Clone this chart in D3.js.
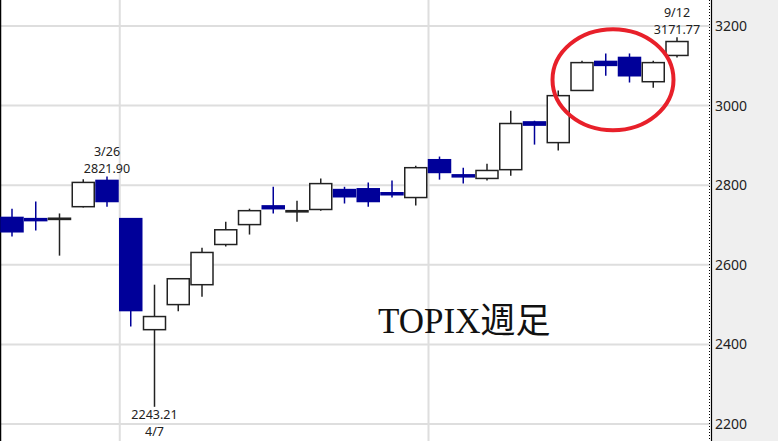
<!DOCTYPE html>
<html>
<head>
<meta charset="utf-8">
<script src="https://cdn.jsdelivr.net/npm/d3@7"></script>
<style>
  body { margin: 0; background: #fff; }
  svg { display: block; }
  .tick text { font-family: "Noto Sans", sans-serif; font-size: 14px; fill: #222; }
</style>
</head>
<body>
<div id="chart"></div>
<script>
// weekly candles, week starting dates (2025)
const weeks = ["2/24", "3/3", "3/10", "3/17", "3/24", "3/31", "4/7", "4/14", "4/21", "4/28",
  "5/5", "5/12", "5/19", "5/26", "6/2", "6/9", "6/16", "6/23", "6/30", "7/7",
  "7/14", "7/21", "7/28", "8/4", "8/11", "8/18", "8/25", "9/1", "9/8"];
const opens  = [2719, 2716, 2714, 2746, 2812, 2716, 2437, 2500, 2550, 2651,
  2701, 2748, 2733, 2739, 2789, 2791, 2781, 2769, 2864, 2826,
  2817, 2839, 2959, 2907, 3038, 3111, 3121, 3060, 3126];
const highs  = [2741, 2759, 2729, 2815, 2821.90, 2716, 2550, 2567, 2643, 2708,
  2741, 2796, 2761, 2817, 2796, 2807, 2812, 2849, 2872, 2844,
  2854, 2987, 2962, 3038, 3113, 3131, 3131, 3113, 3171.77];
const lows   = [2671, 2686, 2623, 2744, 2746, 2445, 2243.21, 2483, 2520, 2646,
  2676, 2729, 2708, 2736, 2754, 2746, 2769, 2749, 2814, 2804,
  2812, 2824, 2902, 2887, 3038, 3075, 3058, 3045, 3121];
const closes = [2683, 2711, 2717, 2807, 2759, 2485, 2470, 2565, 2631, 2688,
  2736, 2741, 2736, 2804, 2771, 2759, 2776, 2844, 2832, 2821,
  2837, 2955, 2951, 3025, 3108, 3101, 3075, 3108, 3161];
const yTicks = [2200, 2400, 2600, 2800, 3000, 3200];
const monthStarts = ["3/31", "6/30"];
// annotated extremes: [week, date label, value, above/below]
const marks = [["3/24", "3/26", "2821.90", "high"], ["4/7", "4/7", "2243.21", "low"], ["9/8", "9/12", "3171.77", "high"]];
const title = "TOPIX週足";

const width = 778, height = 441;
const plotRight = 710;
const blue = "#000099", ink = "#222";

const candles = weeks.map((w, i) => ({ w: w, o: opens[i], h: highs[i], l: lows[i], c: closes[i] }));

const svg = d3.select("#chart").append("svg")
  .attr("width", width)
  .attr("height", height);

const x = d3.scalePoint().domain(weeks).range([12, 677]);
const y = d3.scaleLinear().domain([2200, 3200]).range([424, 26]);
const bodyW = 22;

// right axis panel
svg.append("rect")
  .attr("x", plotRight + 1).attr("y", 0)
  .attr("width", width - plotRight).attr("height", height)
  .attr("fill", "#efefef");

// grid
svg.append("g").selectAll("line").data(yTicks).enter().append("line")
  .attr("x1", 0).attr("x2", plotRight)
  .attr("y1", d => y(d)).attr("y2", d => y(d))
  .attr("stroke", "#dedede").attr("stroke-width", 2);
svg.append("g").selectAll("line").data(monthStarts).enter().append("line")
  .attr("x1", d => x(d) - 11).attr("x2", d => x(d) - 11)
  .attr("y1", 0).attr("y2", height)
  .attr("stroke", "#dedede").attr("stroke-width", 2);

// borders
svg.append("line").attr("x1", 0.5).attr("x2", 0.5).attr("y1", 0).attr("y2", height)
  .attr("stroke", "#000").attr("stroke-width", 1.5);
svg.append("line").attr("x1", plotRight - 0.5).attr("x2", plotRight - 0.5).attr("y1", 0).attr("y2", height)
  .attr("stroke", "#000").attr("stroke-width", 1).attr("stroke-dasharray", "1,2");
svg.append("line").attr("x1", plotRight + 1.5).attr("x2", plotRight + 1.5).attr("y1", 0).attr("y2", height)
  .attr("stroke", "#000").attr("stroke-width", 1.2);

const axis = svg.append("g")
  .attr("transform", "translate(" + (plotRight + 2) + ",0)")
  .call(d3.axisRight(y).tickValues(yTicks).tickSize(0).tickPadding(3).tickFormat(d3.format("d")));
axis.select(".domain").remove();

// candles
const g = svg.append("g");
const colorOf = d => d.c < d.o ? blue : ink;

g.selectAll(".wick").data(candles).enter().append("line")
  .attr("class", "wick")
  .attr("x1", d => x(d.w)).attr("x2", d => x(d.w))
  .attr("y1", d => y(d.h)).attr("y2", d => y(d.l))
  .attr("stroke", colorOf).attr("stroke-width", 1.5);

g.selectAll(".body").data(candles).enter().append("rect")
  .attr("class", "body")
  .attr("x", d => x(d.w) - bodyW / 2)
  .attr("width", bodyW)
  .attr("y", d => y(Math.max(d.o, d.c)))
  .attr("height", d => Math.max(0.5, Math.abs(y(d.o) - y(d.c))))
  .attr("fill", d => d.c < d.o ? blue : "#fff")
  .attr("stroke", colorOf)
  .attr("stroke-width", 1.5);

// extreme labels, one text per line
marks.forEach(m => {
  const d = candles[weeks.indexOf(m[0])];
  const lines = m[3] === "high"
    ? [[m[1], y(d.h) - 20.5], [m[2], y(d.h) - 3.5]]
    : [[m[2], y(d.l) + 12.5], [m[1], y(d.l) + 29.5]];
  lines.forEach(l => {
    svg.append("text")
      .attr("x", x(d.w)).attr("y", l[1])
      .attr("text-anchor", "middle")
      .attr("font-family", "Noto Sans, sans-serif")
      .attr("font-size", 12.5)
      .attr("fill", ink)
      .text(l[0]);
  });
});

// title
svg.append("text")
  .attr("x", 378).attr("y", 333)
  .attr("font-family", "Liberation Serif, Noto Sans CJK JP, serif")
  .attr("font-size", 35)
  .attr("fill", "#111")
  .text(title);

// red circle around the late-August range
svg.append("ellipse")
  .attr("cx", x("8/11") + 31)
  .attr("cy", y(3065))
  .attr("rx", 60.5).attr("ry", 50.5)
  .attr("fill", "none")
  .attr("stroke", "#e8202a")
  .attr("stroke-width", 4);
</script>
</body>
</html>
